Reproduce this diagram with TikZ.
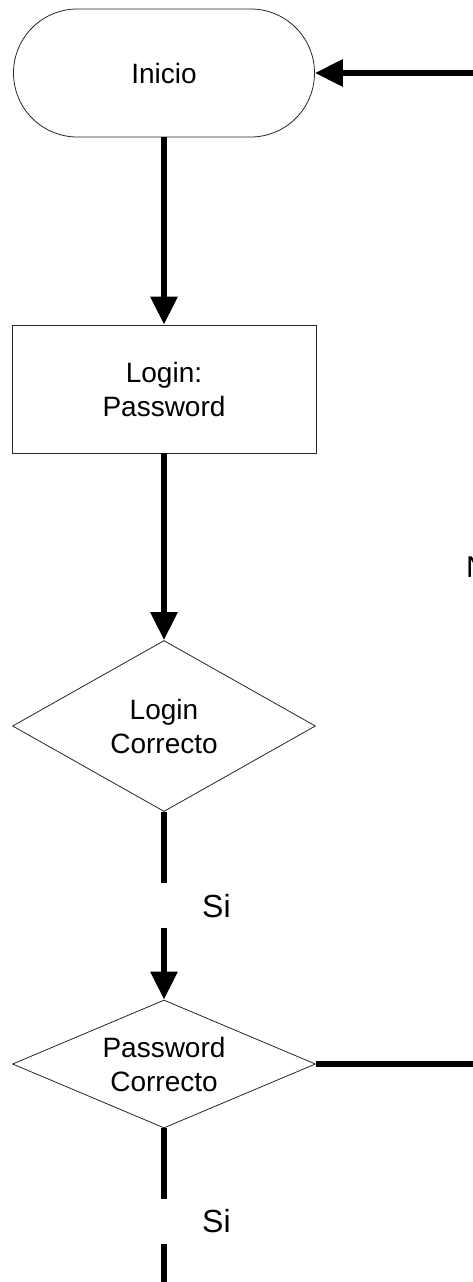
\documentclass[tikz,border=0pt]{standalone}
\usepackage{fontspec}
\setmainfont{Liberation Sans}
\usetikzlibrary{arrows.meta,shapes.geometric}
\begin{document}
\begin{tikzpicture}[x=1pt,y=-1pt,
  box/.style={draw=black!85, line width=0.8pt, fill=white, align=center,
    font=\fontsize{28}{34}\selectfont, inner sep=0pt},
  flow/.style={line width=6pt, -{Triangle[length=28pt 0 0,width=26pt 0 0]}},
  flowplain/.style={line width=6pt},
  lbl/.style={font=\fontsize{32}{38}\selectfont, inner sep=0pt}]
\useasboundingbox (0,0) rectangle (473,1282);
\node[box, rectangle, minimum width=301pt, minimum height=128pt, rounded corners=63.9pt] (inicio) at (164,73) {Inicio};
\node[box, rectangle, minimum width=304pt, minimum height=128pt] (input) at (164,389) {Login:\\Password};
\node[box, diamond, aspect=2.4, minimum width=303pt, minimum height=171pt] (d1) at (164,726) {Login\\Correcto};
\node[box, diamond, aspect=2.4, minimum width=303pt, minimum height=128pt] (d2) at (164,1064) {Password\\Correcto};
\node[lbl, anchor=base west] (si1) at (202,917) {Si};
\node[lbl, anchor=base west] (si2) at (202,1232) {Si};
\node[lbl, anchor=base west, font=\fontsize{30}{36}\selectfont] (no) at (466,577) {N};
\coordinate (topright) at (473,73);
\coordinate (s1a) at (164,883);
\coordinate (s1b) at (164,928);
\coordinate (d2right) at (473,1064);
\coordinate (s2a) at (164,1199);
\coordinate (s2b) at (164,1244);
\coordinate (s2c) at (164,1282);
\draw[flow] (topright) -- (inicio.east);
\draw[flow] (inicio) -- (input);
\draw[flow] (input) -- (d1);
\draw[flowplain] (d1.south) -- (s1a);
\draw[flow] (s1b) -- (d2.north);
\draw[flowplain] (d2.east) -- (d2right);
\draw[flowplain] (d2.south) -- (s2a);
\draw[flowplain] (s2b) -- (s2c);
\end{tikzpicture}
\end{document}
